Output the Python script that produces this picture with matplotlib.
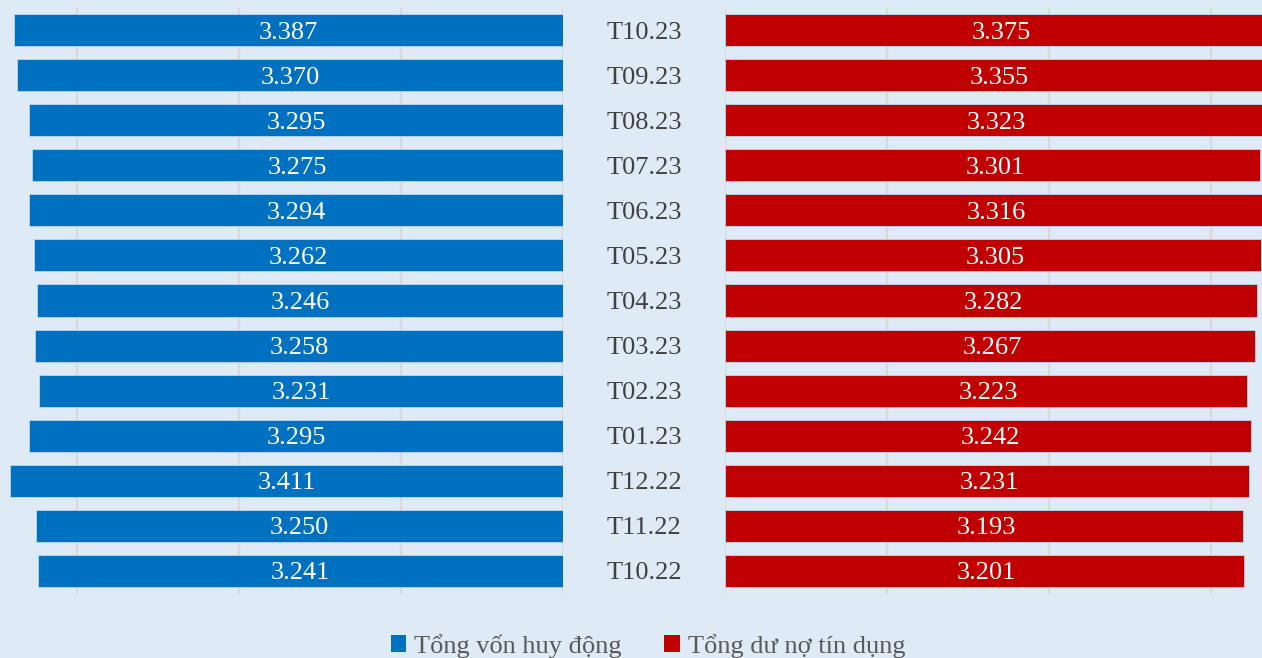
import matplotlib
matplotlib.use("Agg")
import matplotlib.pyplot as plt
from matplotlib.patches import Patch

months = ["T10.22", "T11.22", "T12.22", "T01.23", "T02.23", "T03.23", "T04.23",
          "T05.23", "T06.23", "T07.23", "T08.23", "T09.23", "T10.23"]
von_huy_dong = [3.241, 3.250, 3.411, 3.295, 3.231, 3.258, 3.246,
                3.262, 3.294, 3.275, 3.295, 3.370, 3.387]
du_no_tin_dung = [3.201, 3.193, 3.231, 3.242, 3.223, 3.267, 3.282,
                  3.305, 3.316, 3.301, 3.323, 3.355, 3.375]
legend_labels = ["Tổng vốn huy động", "Tổng dư nợ tín dụng"]

BG = "#DEEAF6"
BLUE = "#0070C0"
RED = "#C00000"
GRID = "#D9D9D9"
FONT = ["Liberation Serif", "DejaVu Serif"]
plt.rcParams["font.family"] = FONT

W, H = 1262, 658
fig = plt.figure(figsize=(W / 100, H / 100), dpi=100, facecolor=BG)

y_top, y_bot = 7.5, 593.5
ax_b = 1 - y_bot / H
ax_h = (y_bot - y_top) / H
scale = 162.1  # px per unit

axL = fig.add_axes([0 / W, ax_b, 563 / W, ax_h])
axR = fig.add_axes([725 / W, ax_b, (W - 725) / W, ax_h])

ypos = list(range(len(months)))
for ax, vals, col, width_px in ((axL, von_huy_dong, BLUE, 563),
                                 (axR, du_no_tin_dung, RED, W - 725)):
    ax.set_facecolor(BG)
    ax.barh(ypos, vals, height=0.71, color=col, edgecolor="#BDD7EE",
            linewidth=0.6, zorder=3)
    ax.set_ylim(-0.5, len(months) - 0.5)
    xmax = width_px / scale
    for s in ax.spines.values():
        s.set_visible(False)
    ax.set_yticks([])
    ax.set_xticks([0, 1, 2, 3])
    ax.tick_params(axis="x", length=0, labelbottom=False)
    ax.grid(axis="x", color=GRID, linewidth=1.6, zorder=0)
    for y, v in zip(ypos, vals):
        cx = v / 2 + (0.015 if ax is axR else 0)
        ax.text(cx, y, f"{v:.3f}", ha="center", va="center_baseline",
                color="white", fontsize=19, zorder=4)
    if ax is axL:
        ax.set_xlim(xmax, 0)
    else:
        ax.set_xlim(0, xmax)

for y, m in zip(ypos, months):
    fig.text(644 / W, ax_b + (y + 0.5) / len(months) * ax_h, m,
             ha="center", va="center_baseline", color="#404040", fontsize=19)

handles = [Patch(facecolor=BLUE), Patch(facecolor=RED)]
fig.legend(handles, legend_labels, loc="center",
           bbox_to_anchor=(648 / W, 1 - 646 / H), ncol=2, frameon=False,
           fontsize=19, labelcolor="#595959", handlelength=0.6,
           handleheight=0.6, handletextpad=0.3, columnspacing=1.6)

fig.savefig("out.png", dpi=100, facecolor=BG)
